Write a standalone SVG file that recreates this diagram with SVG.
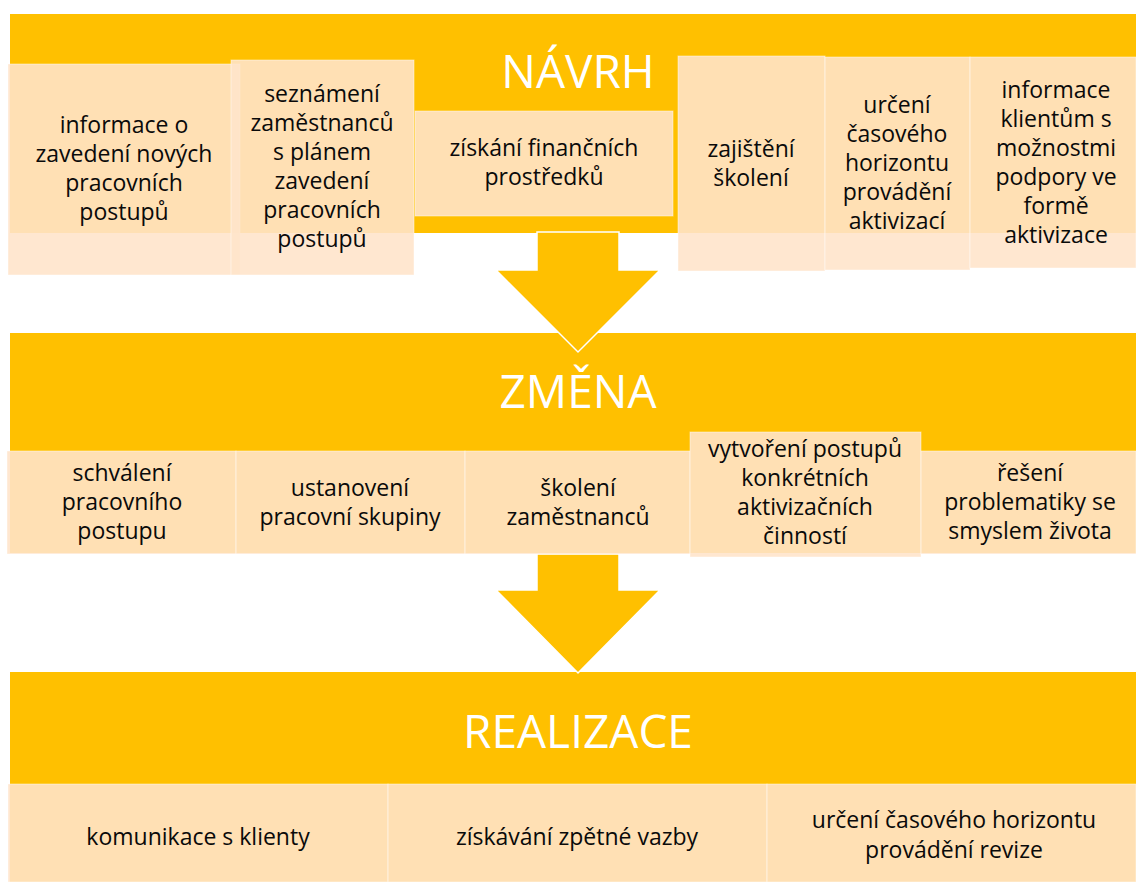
<svg xmlns="http://www.w3.org/2000/svg" width="1136" height="882" viewBox="0 0 1136 882">
<style>
.band{fill:#FFC000}
.arrow{fill:#FFC000;stroke:#FFFFFF;stroke-width:1.5;stroke-linejoin:miter}
.box{fill:#FFE4CA;fill-opacity:0.89;stroke:#FFFFFF;stroke-opacity:0.45;stroke-width:1}
.title{font-family:"Open Sans",sans-serif;font-size:46px;fill:#FFFFFF;text-anchor:middle}
.t{font-family:"Open Sans",sans-serif;font-size:23px;fill:#0A0A0A;text-anchor:middle}
</style>
<rect width="1136" height="882" fill="#FFFFFF"/>
<g id="band-navrh"><rect class="band" x="10" y="14" width="1126" height="219"/><text class="title" x="578" y="88">NÁVRH</text></g>
<g id="band-zmena"><rect class="band" x="10" y="333" width="1126" height="220"/><text class="title" x="578" y="408">ZMĚNA</text></g>
<g id="band-realizace"><rect class="band" x="10" y="672" width="1126" height="210"/><text class="title" x="578" y="748">REALIZACE</text></g>
<g id="connectors">
<path class="arrow" d="M537,232 H619 V270 H660 L578,352 L496,270 H537 Z"/>
<path class="arrow" d="M537,554 H619 V590 H660 L578,673 L496,590 H537 Z"/>
</g>
<g id="n1"><rect class="box" x="8" y="64" width="232" height="211"/>
<text class="t" x="124" y="133">informace o</text><text class="t" x="124" y="162">zavedení nových</text><text class="t" x="124" y="191">pracovních</text><text class="t" x="124" y="220">postupů</text></g>
<g id="n2"><rect class="box" x="231" y="60" width="183" height="215"/>
<text class="t" x="322" y="102">seznámení</text><text class="t" x="322" y="131">zaměstnanců</text><text class="t" x="322" y="160">s plánem</text><text class="t" x="322" y="189">zavedení</text><text class="t" x="322" y="218">pracovních</text><text class="t" x="322" y="247">postupů</text></g>
<g id="n3"><rect class="box" x="415" y="111" width="258" height="105"/>
<text class="t" x="544" y="156">získání finančních</text><text class="t" x="544" y="185">prostředků</text></g>
<g id="n4"><rect class="box" x="678" y="56" width="147" height="215"/>
<text class="t" x="751" y="157">zajištění</text><text class="t" x="751" y="186">školení</text></g>
<g id="n5"><rect class="box" x="825" y="57" width="145" height="213"/>
<text class="t" x="897" y="113">určení</text><text class="t" x="897" y="142">časového</text><text class="t" x="897" y="171">horizontu</text><text class="t" x="897" y="200">provádění</text><text class="t" x="897" y="229">aktivizací</text></g>
<g id="n6"><rect class="box" x="970" y="57" width="166" height="211"/>
<text class="t" x="1056" y="98">informace</text><text class="t" x="1056" y="127">klientům s</text><text class="t" x="1056" y="156">možnostmi</text><text class="t" x="1056" y="185">podpory ve</text><text class="t" x="1056" y="214">formě</text><text class="t" x="1056" y="243">aktivizace</text></g>
<g id="z1"><rect class="box" x="7" y="451" width="229" height="103"/>
<text class="t" x="122" y="481">schválení</text><text class="t" x="122" y="510">pracovního</text><text class="t" x="122" y="539">postupu</text></g>
<g id="z2"><rect class="box" x="236" y="451" width="229" height="103"/>
<text class="t" x="350" y="496">ustanovení</text><text class="t" x="350" y="525">pracovní skupiny</text></g>
<g id="z3"><rect class="box" x="465" y="451" width="225" height="103"/>
<text class="t" x="578" y="496">školení</text><text class="t" x="578" y="525">zaměstnanců</text></g>
<g id="z4"><rect class="box" x="690" y="432" width="231" height="125"/>
<text class="t" x="805" y="457">vytvoření postupů</text><text class="t" x="805" y="486">konkrétních</text><text class="t" x="805" y="515">aktivizačních</text><text class="t" x="805" y="544">činností</text></g>
<g id="z5"><rect class="box" x="921" y="451" width="215" height="103"/>
<text class="t" x="1030" y="481">řešení</text><text class="t" x="1030" y="510">problematiky se</text><text class="t" x="1030" y="539">smyslem života</text></g>
<g id="r1"><rect class="box" x="8" y="784" width="380" height="98"/>
<text class="t" x="198" y="845">komunikace s klienty</text></g>
<g id="r2"><rect class="box" x="388" y="784" width="379" height="98"/>
<text class="t" x="577" y="845">získávání zpětné vazby</text></g>
<g id="r3"><rect class="box" x="767" y="784" width="369" height="98"/>
<text class="t" x="954" y="828">určení časového horizontu</text><text class="t" x="954" y="858">provádění revize</text></g>
</svg>
